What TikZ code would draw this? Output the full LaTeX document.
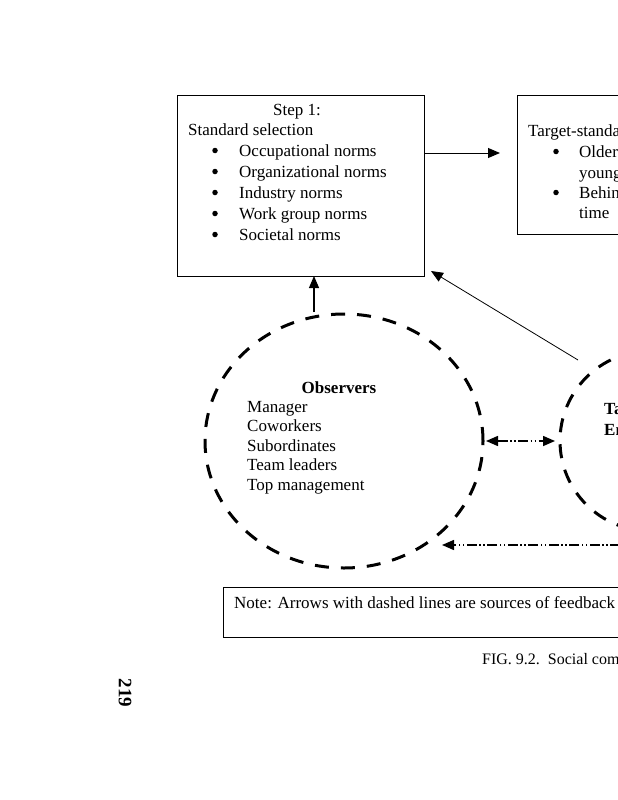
\documentclass[tikz,border=0pt]{standalone}
\usepackage{fontspec}
\setmainfont{Liberation Serif}
\usetikzlibrary{arrows.meta,shapes.geometric}
\begin{document}
\begin{tikzpicture}[x=1pt,y=-1pt,
  box/.style={draw,line width=1.1pt,inner sep=0pt,anchor=north west},
  txt/.style={inner sep=0pt,anchor=base west,font=\fontsize{17}{20}\selectfont},
  txtc/.style={inner sep=0pt,anchor=base,font=\fontsize{17}{20}\selectfont},
  bul/.style={circle,fill,inner sep=0pt,minimum size=5.5pt},
  ring/.style={draw,ellipse,line width=3pt,dash pattern=on 14pt off 12pt,inner sep=0pt},
  tip/.style={-{Triangle[length=12pt,width=10pt]}},
  dd/.style={line width=1.5pt,dash pattern=on 10pt off 2.5pt on 1.5pt off 2.5pt on 1.5pt off 2.5pt}
]
\useasboundingbox (0,0) rectangle (618,800);
\clip (0,0) rectangle (618,800);
% Step 1 box
\node[box,minimum width=247pt,minimum height=181pt] (s1) at (177,95) {};
\node[txtc] (s1a) at (297,115) {Step 1:};
\node[txt] (s1b) at (188,135) {Standard selection};
\foreach \y/\t [count=\i] in {156/Occupational norms,177/Organizational norms,198/Industry norms,219/Work group norms,240/Societal norms}{
  \node[bul] (b1\i) at (215,\y-5.5) {};
  \node[txt] (n1\i) at (239,\y) {\t};
}
% Target box
\node[box,minimum width=140pt,minimum height=139pt] (s2) at (517,95) {};
\node[txt] (s2a) at (528,136) {Target-standard};
\node[bul] (b21) at (556,151.5) {};
\node[txt] (s2b) at (579,157) {Older};
\node[txt] (s2c) at (579,178) {younger};
\node[bul] (b22) at (556,192.5) {};
\node[txt] (s2d) at (579,198) {Behind};
\node[txt] (s2e) at (579,218) {time};
% circles
\node[ring,minimum width=278pt,minimum height=254pt] (obs) at (344,441) {};
\node[ring,minimum width=180pt,minimum height=180pt] (tgt) at (650,441) {};
\node[txtc,font=\fontsize{17}{20}\selectfont\bfseries] (obh) at (339,393) {Observers};
\foreach \y/\t [count=\i] in {412/Manager,431/Coworkers,451/Subordinates,470/Team leaders,490/Top management}{
  \node[txt] (o\i) at (247,\y) {\t};
}
\node[txt,font=\fontsize{17}{20}\selectfont\bfseries] (tg1) at (604,414) {Target};
\node[txt,font=\fontsize{17}{20}\selectfont\bfseries] (tg2) at (604,435) {Employee};
% connectors
\coordinate (a1) at (424,153);
\coordinate (a2) at (500,153);
\draw[tip,line width=1pt] (a1) -- (a2);
\coordinate (u1) at (314,312);
\coordinate (u2) at (314,276);
\draw[tip,line width=1.1pt] (u1) -- (u2);
\coordinate (d1) at (578,360);
\coordinate (d2) at (431,271);
\draw[tip,line width=0.8pt] (d1) -- (d2);
\coordinate (h1) at (486,441);
\coordinate (h2) at (555,441);
\draw[dd,{Triangle[length=12pt,width=10pt]}-{Triangle[length=12pt,width=10pt]}] (h1) -- (h2);
\coordinate (f1) at (620,545);
\coordinate (f2) at (442,545);
\draw[dd,tip] (f1) -- (f2);
% note
\node[box,minimum width=420pt,minimum height=50pt] (note) at (223,587) {};
\node[txt] (nt) at (234,608) {Note: Arrows with dashed lines are sources of feedback};
\node[txt,font=\fontsize{16}{18}\selectfont] (cap) at (482,664) {FIG. 9.2.\ \ Social comparison};
\node[inner sep=0pt,rotate=-90,font=\fontsize{19}{21}\selectfont\bfseries] (pg) at (125,693) {219};
\end{tikzpicture}
\end{document}
